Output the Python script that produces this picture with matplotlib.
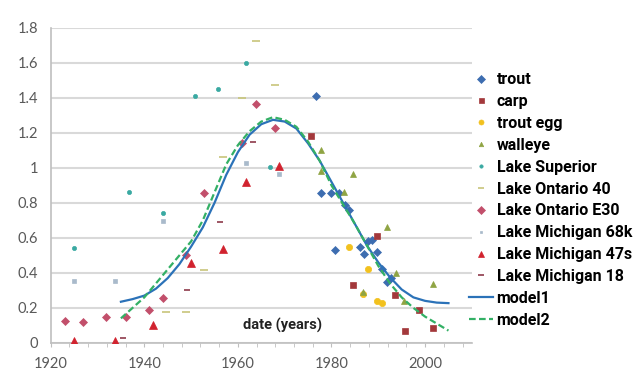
import matplotlib.pyplot as plt
from matplotlib.ticker import MultipleLocator, FuncFormatter

plt.rcParams['font.family'] = ['Lato', 'DejaVu Sans']

# scatter series: (years, values)
trout_x = [1976.6, 1977.8, 1979.9, 1981.6, 1982.9, 1983.8, 1980.8, 1986.0, 1987.0,
           1987.9, 1988.7, 1989.8, 1990.7, 1991.8, 1992.8]
trout_y = [1.41, 0.855, 0.855, 0.855, 0.79, 0.76, 0.53, 0.55, 0.51,
           0.58, 0.59, 0.52, 0.425, 0.35, 0.37]

carp_x = [1975.7, 1989.8, 1984.7, 1993.6, 1998.7, 1995.8, 2001.7]
carp_y = [1.18, 0.61, 0.33, 0.275, 0.185, 0.07, 0.085]

egg_x = [1983.8, 1987.7, 1986.8, 1989.8, 1990.7]
egg_y = [0.55, 0.42, 0.28, 0.24, 0.225]

walleye_x = [1977.8, 1977.8, 1984.7, 1982.7, 1991.9, 1993.8, 1986.8, 2001.7, 1995.5]
walleye_y = [1.10, 0.98, 0.965, 0.86, 0.665, 0.40, 0.29, 0.335, 0.24]

superior_x = [1950.8, 1955.8, 1961.8, 1924.9, 1936.8, 1943.9, 1966.8]
superior_y = [1.41, 1.45, 1.60, 0.54, 0.865, 0.74, 1.005]

ontario40_x = [1963.9, 1967.9, 1960.8, 1956.8, 1944.7, 1948.9, 1952.8]
ontario40_y = [1.725, 1.475, 1.40, 1.065, 0.175, 0.175, 0.415]

ontarioE30_x = [1923.0, 1927.0, 1931.8, 1936.0, 1940.9, 1943.9, 1948.9, 1952.8,
                1963.9, 1967.9, 1960.9]
ontarioE30_y = [0.125, 0.12, 0.15, 0.15, 0.19, 0.255, 0.50, 0.855,
                1.365, 1.23, 1.14]

mich68_x = [1924.9, 1933.8, 1943.9, 1961.8, 1968.7]
mich68_y = [0.355, 0.355, 0.695, 1.03, 0.965]

mich47_x = [1924.9, 1933.8, 1941.8, 1949.9, 1956.8, 1961.8, 1968.7]
mich47_y = [0.01, 0.012, 0.10, 0.455, 0.535, 0.92, 1.01]

mich18_x = [1963.2, 1956.2, 1949.2, 1935.4]
mich18_y = [1.15, 0.69, 0.30, 0.025]

# model curves every 2.5 years
model_x = [1935, 1937.5, 1940, 1942.5, 1945, 1947.5, 1950, 1952.5, 1955, 1957.5,
           1960, 1962.5, 1965, 1967.5, 1970, 1972.5, 1975, 1977.5, 1980, 1982.5,
           1985, 1987.5, 1990, 1992.5, 1995, 1997.5, 2000, 2002.5, 2005]
model1_y = [0.235, 0.25, 0.27, 0.31, 0.37, 0.45, 0.55, 0.66, 0.80, 0.96,
            1.09, 1.19, 1.25, 1.275, 1.265, 1.225, 1.14, 1.04, 0.92, 0.80,
            0.68, 0.56, 0.46, 0.375, 0.305, 0.26, 0.24, 0.23, 0.227]
model2_y = [0.14, 0.20, 0.26, 0.34, 0.42, 0.50, 0.58, 0.70, 0.86, 1.02,
            1.13, 1.21, 1.265, 1.29, 1.275, 1.235, 1.15, 1.04, 0.90, 0.79,
            0.68, 0.56, 0.44, 0.34, 0.26, 0.20, 0.15, 0.11, 0.07]

fig = plt.figure(figsize=(6.42, 3.78), dpi=100)
ax = fig.add_axes([0.079, 0.093, 0.656, 0.833])

pts = [
    ("trout", trout_x, trout_y, "D", "#3D6DB0", 4.5),
    ("carp", carp_x, carp_y, "s", "#A3383B", 4.5),
    ("trout egg", egg_x, egg_y, "o", "#F2C11E", 4.5),
    ("walleye", walleye_x, walleye_y, "^", "#8FA443", 4.0),
    ("Lake Superior", superior_x, superior_y, "o", "#3AA9A2", 3.0),
    ("Lake Ontario 40", ontario40_x, ontario40_y, "_", "#C8C57A", 6.0),
    ("Lake Ontario E30", ontarioE30_x, ontarioE30_y, "D", "#C24F6B", 4.5),
    ("Lake Michigan 68k", mich68_x, mich68_y, "s", "#A9BACB", 2.5),
    ("Lake Michigan 47s", mich47_x, mich47_y, "^", "#D1222E", 6.0),
    ("Lake Michigan 18", mich18_x, mich18_y, "_", "#8E3A4A", 5.0),
]
for name, xs, ys, m, c, s in pts:
    ax.plot(xs, ys, linestyle="none", marker=m, color=c, markersize=s,
            markeredgewidth=1.2 if m == "_" else 0.5, label=name, zorder=3)

ax.plot(model_x, model1_y, color="#2B72B8", lw=1.6, label="model1", zorder=4)
ax.plot(model_x, model2_y, color="#33B065", lw=1.6, ls=(0, (3, 1.5)),
        label="model2", zorder=4)

ax.set_xlim(1920, 2010)
ax.set_ylim(0, 1.8)
ax.yaxis.set_major_locator(MultipleLocator(0.2))
ax.yaxis.set_major_formatter(FuncFormatter(lambda v, p: f"{v:g}"))
ax.xaxis.set_major_locator(MultipleLocator(20))
ax.xaxis.set_minor_locator(MultipleLocator(4))
ax.grid(axis="y", color="#D9D9D9", lw=1.5)
ax.set_axisbelow(True)
for side in ["top", "right"]:
    ax.spines[side].set_visible(False)
for side in ["left", "bottom"]:
    ax.spines[side].set_color("#BFBFBF")
    ax.spines[side].set_linewidth(1.2)
ax.tick_params(axis="x", which="both", direction="out", color="#BFBFBF",
               length=3, labelsize=10.5, labelcolor="#595959", pad=7)
ax.tick_params(axis="y", length=0, labelsize=10.5, labelcolor="#595959", pad=9)

ax.text(1969.5, 0.1, "date (years)", fontsize=10.5, fontweight="bold",
        family=["Roboto", "DejaVu Sans"], ha="center", va="center",
        color="#222222")

fig.legend(loc="upper left", bbox_to_anchor=(0.72, 0.826), frameon=False,
           prop={"size": 11.5, "weight": "bold", "family": ["Roboto", "DejaVu Sans"]},
           handlelength=1.55, handletextpad=0.2, labelspacing=0.43,
           borderaxespad=0, markerscale=0.8)

fig.savefig("out.png", dpi=100)
